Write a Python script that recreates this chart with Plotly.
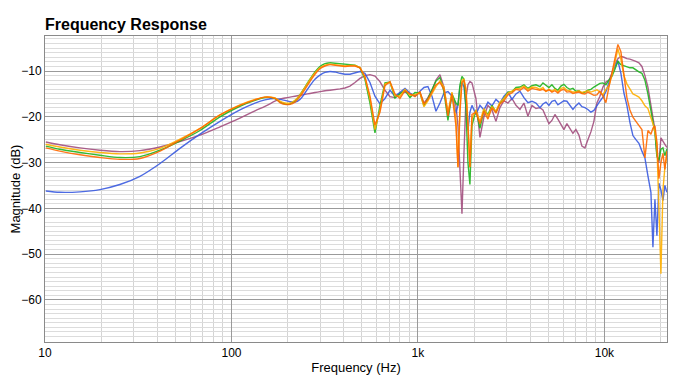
import plotly.graph_objects as go

freq_hz = [
    10.1, 12.0, 15.4, 19.7, 25.2, 32.3, 41.4, 52.9, 67.8, 86.8, 111, 133.7, 151.2, 171.1,
    182, 193.6, 205.9, 219, 233, 247.8, 263.6, 280.4, 298.2, 317.2, 337.4, 358.9, 381.8, 406.1,
    431.9, 459.4, 488.7, 519.8, 552.9, 588.1, 625.6, 665.6, 707.9, 753, 800.9, 852, 906, 964, 1025,
    1077, 1131, 1189, 1249, 1312, 1379, 1448, 1522, 1599, 1639, 1680, 1722, 1765, 1809, 1854, 1900,
    1948, 2046, 2150, 2259, 2373, 2494, 2620, 2752, 2892, 3038, 3192, 3354, 3524, 3702, 3889, 4087,
    4294, 4511,
    4681, 4857, 5040, 5230, 5427, 5631, 5844, 6064, 6292, 6531, 6777, 7033, 7298, 7573, 7858, 8154,
    8462, 8782, 9113, 9460, 9816, 10186, 10571, 10970, 11384, 11813, 12259, 12722, 13200, 13700,
    14216, 14753, 15311, 15889, 16488, 17111, 17757,
    18200, 18660, 19120, 19600, 20090, 20600, 21100, 21630,
]

green_db = [
    -26.4, -27.1, -27.8, -28.4, -28.9, -28.7, -27.3, -25.3, -23.0, -20.0, -17.7, -16.4, -15.8, -16.0,
    -16.8, -17.2, -17.2, -16.5, -15.2, -13.5, -11.8, -10.2, -9.0, -8.4, -8.2, -8.3, -8.5, -8.6, -8.6,
    -8.7, -9.3, -11.8, -17.0, -23.5, -17.5, -12.6, -12.4, -15.9, -15.0, -14.2, -15.8, -14.7, -14.8,
    -17.6, -16.0, -14.0, -12.2, -11.4, -14.5, -20.8, -15.0, -17.0,
    -17.5, -13.0, -11.2, -11.8, -18.0, -30.0, -34.8, -22.0,
    -18.5, -22.5, -18.5, -19.5, -17.5, -19.0, -17.0, -16.0, -14.6, -14.5, -13.6, -13.5, -13.0, -13.8,
    -13.2, -13.0, -13.4,
    -12.6, -13.2, -13.6, -13.0, -13.8, -14.2, -13.3, -12.9, -13.6, -14.0, -13.8, -14.4, -14.3, -14.8,
    -14.6, -14.2, -14.0, -13.5, -13.0, -12.7, -12.6, -13.0, -12.0, -11.2, -9.6, -7.9, -8.6, -8.8,
    -9.1, -9.3, -9.3, -9.8, -10.2, -10.5, -12.0, -15.0, -18.5,
    -20.6, -23.5, -28.6, -29.5, -27.1, -26.8, -28.5, -27.0,
]

orange_db = [
    -26.8, -27.5, -28.3, -28.9, -29.3, -29.1, -27.5, -25.1, -22.6, -19.6, -17.5, -16.3, -15.7, -16.0,
    -16.9, -17.3, -17.3, -16.8, -15.6, -14.0, -12.3, -10.7, -9.5, -8.9, -8.6, -8.7, -8.9, -9.0, -8.9,
    -8.9, -9.3, -11.2, -15.5, -21.8, -19.0, -13.2, -12.3, -15.0, -16.0, -14.3, -15.0, -15.6, -14.6,
    -17.2, -16.2, -14.6, -13.0, -12.5, -14.0, -19.8, -15.0, -22.0,
    -31.0, -19.0, -12.5, -12.0, -14.5, -22.0, -31.0, -19.5,
    -19.0, -21.5, -18.8, -20.5, -18.0, -19.2, -17.2, -16.5, -15.2, -14.8, -14.0, -14.2, -13.6, -14.4,
    -13.8, -14.0, -14.2,
    -14.0, -14.4, -14.1, -14.6, -14.3, -14.8, -14.2, -14.0, -14.6, -14.5, -14.9, -14.8, -14.6, -14.9,
    -15.0, -14.6, -15.0, -15.3, -15.2, -14.4, -15.5, -16.9, -13.5, -10.5, -7.5, -4.2, -5.8, -11.0,
    -15.8, -18.5, -20.1, -21.0, -21.9, -22.8, -29.0, -23.0, -23.8,
    -22.5, -22.0, -25.5, -33.5, -30.0, -28.0, -31.5, -27.5,
]

gold_db = [
    -26.0, -26.6, -27.3, -27.8, -28.1, -27.9, -26.9, -24.9, -22.5, -19.6, -17.4, -16.2, -15.7, -15.9,
    -16.6, -17.0, -17.0, -16.4, -15.2, -13.6, -11.9, -10.4, -9.3, -8.7, -8.5, -8.6, -8.8, -8.9, -8.8,
    -8.8, -9.2, -11.4, -16.0, -22.8, -18.5, -12.8, -12.5, -15.4, -15.5, -14.0, -15.3, -15.2, -14.7,
    -17.8, -16.5, -14.8, -13.4, -12.2, -13.5, -19.0, -14.6, -20.5,
    -31.0, -17.5, -12.0, -11.8, -13.8, -21.0, -31.0, -20.5,
    -18.5, -21.0, -18.2, -19.8, -17.8, -18.8, -16.8, -16.0, -14.8, -14.4, -13.9, -13.8, -13.3, -14.0,
    -13.5, -13.6, -14.0,
    -13.6, -14.5, -14.0, -14.4, -14.0, -14.6, -13.8, -13.6, -14.2, -14.3, -14.6, -14.6, -14.3, -14.7,
    -14.5, -14.3, -14.6, -14.4, -14.1, -14.6, -15.2, -14.0, -13.2, -11.0, -7.8, -5.2, -7.5, -11.0,
    -12.8, -14.0, -15.0, -15.3, -15.7, -16.5, -17.6, -18.2, -20.0,
    -21.5, -23.3, -26.2, -40.0, -54.3, -36.0, -31.0, -28.5,
]

blue_db = [
    -36.2, -36.5, -36.4, -35.9, -34.8, -33.0, -30.2, -26.9, -23.8, -21.0, -18.5, -17.0, -16.3, -16.0,
    -16.2, -16.4, -16.7, -16.8, -16.2, -14.8, -13.2, -11.8, -10.9, -10.3, -10.1, -10.2, -10.5, -10.7,
    -10.7, -10.4, -10.1, -10.5, -12.5, -15.5, -17.2, -16.0, -14.2, -15.5, -14.6, -13.8, -14.8, -15.5,
    -14.4,
    -13.6, -13.4, -15.5, -18.8, -17.0, -14.8, -14.5, -15.5, -19.2,
    -17.5, -13.5, -12.6, -13.5, -18.0, -23.0, -19.0, -17.5,
    -19.5, -17.5, -18.5, -16.8, -17.6, -16.2, -17.0, -15.5, -14.6, -16.2, -15.0, -14.4, -15.8, -16.9,
    -16.6, -17.0, -18.0,
    -17.2, -16.8, -17.5, -16.6, -16.4, -17.4, -17.0, -16.5, -16.6, -17.5, -18.4, -17.6, -17.0, -17.8,
    -18.0, -18.4, -19.0, -18.6, -17.5, -16.6, -15.7, -14.5, -12.5, -10.5, -9.0, -7.8, -10.5, -14.8,
    -17.5, -21.2, -24.1, -25.0, -25.8, -27.5, -29.0, -32.9, -36.5,
    -48.5, -38.0, -46.0, -34.5, -36.0, -38.3, -35.0, -36.5,
]

purple_db = [
    -25.5, -26.1, -26.8, -27.3, -27.6, -27.4, -26.6, -25.4, -24.0, -22.2, -20.3, -18.7, -17.7, -16.6,
    -16.1, -15.9, -15.7, -15.5, -15.3, -15.1, -14.9, -14.7, -14.5, -14.3, -14.2, -14.1, -13.9, -13.7,
    -13.3, -12.5, -11.6, -11.0, -10.8, -11.1, -12.3, -14.2, -15.6, -15.8, -14.8, -14.6, -15.0, -15.4,
    -14.7,
    -17.0, -15.8, -14.2, -12.0, -10.8, -13.5, -19.5, -15.5, -17.5,
    -22.0, -33.0, -41.2, -28.0, -16.0, -13.0, -12.3, -12.6,
    -16.0, -24.5, -20.0, -17.5, -18.5, -21.0, -18.0, -16.5, -17.0, -16.0, -17.5, -18.4, -17.0, -19.9,
    -17.5, -18.2, -18.0,
    -18.5, -20.0, -21.5, -20.8, -19.5, -20.5, -21.8, -22.8, -21.5, -22.5, -23.6, -22.8, -24.0, -26.4,
    -26.8, -25.0, -23.3, -21.0, -17.0, -15.5, -13.5, -12.4, -12.0, -10.5, -8.5, -7.3, -6.8, -7.0,
    -7.3, -7.4, -7.6, -7.9, -8.2, -9.0, -11.0, -13.5, -17.5,
    -19.9, -22.8, -28.6, -30.0, -24.6, -25.2, -26.0, -26.7,
]

x_tick_vals = [10, 100, 1000, 10000]
x_tick_text = ["10", "100", "1k", "10k"]
x_minor_vals = [m * d for d in (10, 100, 1000) for m in range(2, 10)] + [20000]
y_tick_vals = [-10, -20, -30, -40, -50, -60]

series = [
    ("purple", purple_db, "#a34f7f"),
    ("blue", blue_db, "#3a5be0"),
    ("green", green_db, "#1fb41f"),
    ("gold", gold_db, "#ffb000"),
    ("orange", orange_db, "#ff6a00"),
]

SMOOTH_END = 24  # index up to which the response is smooth (low frequencies)

fig = go.Figure()
for name, vals, col in series:
    # smooth low-frequency part drawn as spline, detailed part as straight segments
    fig.add_trace(go.Scatter(x=freq_hz[:SMOOTH_END + 1], y=vals[:SMOOTH_END + 1], mode="lines",
                             name=name, line=dict(color=col, width=1.4, shape="spline", smoothing=0.8),
                             opacity=0.9, hoverinfo="skip"))
    fig.add_trace(go.Scatter(x=freq_hz[SMOOTH_END:], y=vals[SMOOTH_END:], mode="lines",
                             name=name, line=dict(color=col, width=1.4), opacity=0.9,
                             hoverinfo="skip"))

font_family = "Liberation Sans, Arial, Helvetica, sans-serif"
W, H, PAD = 700, 381, 8  # the page body adds an 8px margin around the figure
fig.update_layout(
    width=W - PAD, height=H - PAD,
    margin=dict(l=45 - PAD, r=33, t=36 - PAD, b=39),
    paper_bgcolor="white", plot_bgcolor="white",
    showlegend=False,
    font=dict(family=font_family, size=12, color="#000"),
    title=dict(text="<b>Frequency Response</b>", x=(45 - PAD) / (W - PAD), xanchor="left",
               xref="container", y=1 - (24 - PAD) / (H - PAD), yanchor="middle", yref="container",
               font=dict(size=16, color="#000")),
    xaxis=dict(type="log", range=[1, 4.3356], tickvals=x_tick_vals, ticktext=x_tick_text,
               showgrid=True, gridcolor="#9a9a9a", gridwidth=1,
               minor=dict(tickvals=x_minor_vals, showgrid=True, gridcolor="#d4d4d4", gridwidth=1),
               showline=True, linecolor="#8a8a8a", linewidth=1, mirror=True,
               ticks="", zeroline=False, automargin=False,
               title=dict(text="Frequency (Hz)", font=dict(size=13), standoff=3)),
    yaxis=dict(range=[-69.2, -2.35], tickvals=y_tick_vals,
               showgrid=True, gridcolor="#9a9a9a", gridwidth=1,
               minor=dict(dtick=1, tick0=0, showgrid=True, gridcolor="#dcdcdc", gridwidth=1),
               showline=True, linecolor="#8a8a8a", linewidth=1, mirror=True,
               ticks="", zeroline=False, automargin=False,
               title=dict(text="Magnitude (dB)", font=dict(size=13), standoff=6)),
)

fig.write_html("out.html")
